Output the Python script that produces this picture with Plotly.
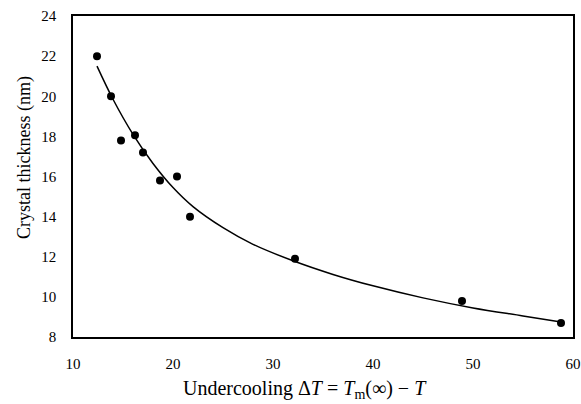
import plotly.graph_objects as go

# Measured data points (undercooling, crystal thickness)
undercooling = [12.4, 13.8, 14.8, 16.2, 17.0, 18.7, 20.4, 21.7, 32.2, 48.9, 58.8]
thickness = [22.0, 20.0, 17.8, 18.05, 17.2, 15.8, 16.0, 14.0, 11.9, 9.8, 8.7]

# Fitted curve
curve_x = [12.4, 14.0, 16.0, 18.0, 20.0, 22.0, 25.0, 28.0, 32.0, 36.0, 40.0, 45.0, 50.0, 55.0, 58.8]
curve_y = [21.5, 19.85, 18.1, 16.65, 15.45, 14.5, 13.45, 12.62, 11.8, 11.12, 10.55, 9.95, 9.45, 9.05, 8.75]

x_ticks = [10, 20, 30, 40, 50, 60]
y_ticks = [8, 10, 12, 14, 16, 18, 20, 22, 24]

FONT = "Liberation Serif, Times New Roman, serif"

fig = go.Figure()
fig.add_trace(go.Scatter(x=curve_x, y=curve_y, mode="lines",
                         line=dict(color="black", width=1.5, shape="spline"),
                         showlegend=False, hoverinfo="skip"))
fig.add_trace(go.Scatter(x=undercooling, y=thickness, mode="markers",
                         marker=dict(color="black", size=8),
                         showlegend=False))

fig.update_layout(
    width=581, height=404,
    margin=dict(l=73, r=8, t=16, b=67),
    paper_bgcolor="white", plot_bgcolor="white",
    font=dict(family=FONT, color="black", size=15),
    xaxis=dict(range=[10, 60], tickvals=x_ticks, showgrid=False, zeroline=False,
               showline=True, linecolor="black", linewidth=1.5, mirror=True,
               ticks="", ticklabelstandoff=12, automargin=False,
               tickfont=dict(family=FONT, size=15)),
    yaxis=dict(range=[8, 24], tickvals=y_ticks, showgrid=False, zeroline=False,
               showline=True, linecolor="black", linewidth=1.5, mirror=True,
               ticks="", ticklabelstandoff=12, automargin=False,
               tickfont=dict(family=FONT, size=15)),
    annotations=[
        dict(text="Crystal thickness (nm)", textangle=-90,
             xref="paper", yref="paper", x=-0.096, y=0.558,
             xanchor="center", yanchor="middle", showarrow=False,
             font=dict(family=FONT, size=18)),
        dict(text="Undercooling Δ<i>T</i> = <i>T</i><sub>m</sub>(∞) − <i>T</i>",
             xref="paper", yref="paper", x=0.464, y=-0.163,
             xanchor="center", yanchor="middle", showarrow=False,
             font=dict(family=FONT, size=20)),
    ],
)

fig.write_html("out.html", config={"displayModeBar": False},
               post_script="document.body.style.margin='0';")
